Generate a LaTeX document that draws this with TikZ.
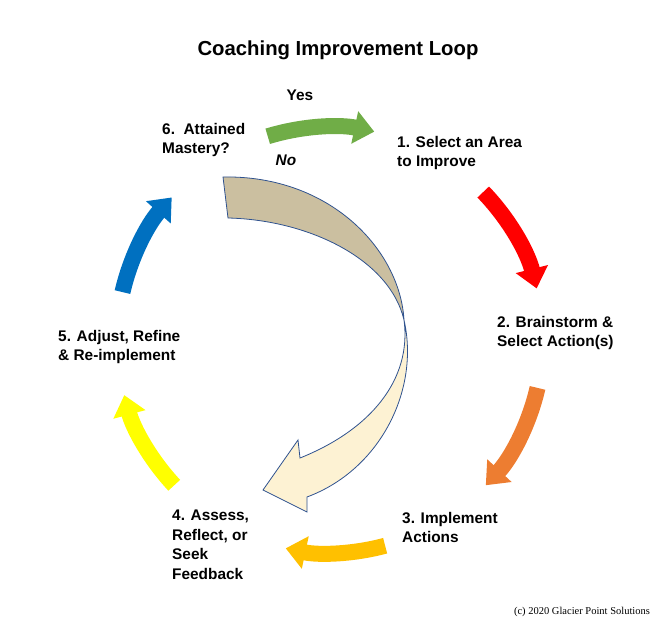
\documentclass[tikz,border=0pt]{standalone}
\usepackage{fontspec}
\setmainfont{Liberation Sans}
\usetikzlibrary{arrows.meta}
\definecolor{loop_green}{HTML}{70AD47}
\definecolor{loop_red}{HTML}{FF0000}
\definecolor{loop_orange}{HTML}{ED7D31}
\definecolor{loop_gold}{HTML}{FFC000}
\definecolor{loop_yellow}{HTML}{FFFF00}
\definecolor{loop_blue}{HTML}{0070C0}
\definecolor{loop_tan}{HTML}{CBBFA0}
\definecolor{loop_cream}{HTML}{FDF2D3}
\definecolor{loop_edge}{HTML}{2F528F}
\begin{document}
\begin{tikzpicture}[x=1pt, y=1pt,
      stage/.style={font=\fontsize{15.4}{19.5}\selectfont\bfseries, align=left, anchor=north west, inner sep=0pt},
      band/.style={line width=16pt, -{Triangle[length=20pt, width=32pt]}}]
      \useasboundingbox (0,0) rectangle (669,634);
      \coordinate (c) at (330,294);
      % Title
      \node[font=\fontsize{20.3}{24}\selectfont\bfseries] (title) at (338,584) {Coaching Improvement Loop};
      % Loop arrows
      \draw[band, loop_green]  (c) ++(107:213) arc (107:78:213);
      \draw[band, loop_red]    (c) ++(44:213)  arc (44:14:213);
      \draw[band, loop_orange] (c) ++(-13:213) arc (-13:-43:213);
      \draw[band, loop_gold]   (c) ++(-75:213) arc (-75:-102:213);
      \draw[band, loop_yellow] (c) ++(-137:213) arc (-137:-165:213);
      \draw[band, loop_blue]   (c) ++(167:213) arc (167:138:213);
      % No arrow
      \draw[loop_edge, thick, fill=loop_tan] (223,457) -- (228,416)
        .. controls (310,414) and (390,374) .. (404,314)
        .. controls (400,384) and (330,459) .. cycle;
      \draw[loop_edge, thick, fill=loop_cream] (404,314)
        .. controls (420,244) and (380,164) .. (307,137)
        -- (307,122) -- (263,144) -- (298,194) -- (300,176)
        .. controls (370,204) and (412,254) .. cycle;
      % Labels
      \node[font=\fontsize{15.4}{19}\selectfont\bfseries] (yes) at (300,539) {Yes};
      \node[font=\fontsize{15.4}{19}\selectfont\bfseries\itshape] (no) at (286,474) {No};
      \node[stage] (s6) at (162,511) {6.\ \ Attained\\Mastery?};
      \node[stage] (s1) at (397,498) {1. Select an Area\\to Improve};
      \node[stage] (s2) at (497,318) {2. Brainstorm \&\\Select Action(s)};
      \node[stage] (s3) at (402,122) {3. Implement\\Actions};
      \node[stage] (s4) at (172,124) {4. Assess,\\Reflect, or\\Seek\\Feedback};
      \node[stage] (s5) at (58,304) {5. Adjust, Refine\\\& Re-implement};
      \node[font=\fontsize{10.5}{12}\selectfont\fontspec{Liberation Serif}] (copy) at (582,22) {(c) 2020 Glacier Point Solutions};
    \end{tikzpicture}
\end{document}
